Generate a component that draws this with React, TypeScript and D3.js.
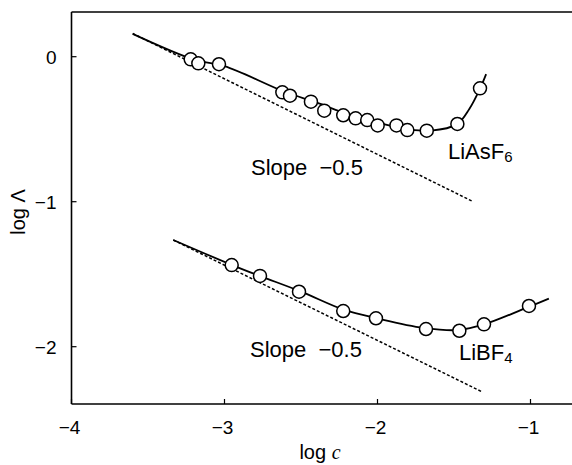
import React from "react";
import * as d3 from "d3";

const xTicks = [-4, -3, -2, -1];
const yTicks = [0, -1, -2];

// LiAsF6 measured points
const asX = [-3.221, -3.171, -3.036, -2.622, -2.572, -2.435, -2.348, -2.224, -2.143, -2.067, -1.999, -1.876, -1.805, -1.678, -1.478, -1.33];
const asY = [-0.018, -0.046, -0.052, -0.246, -0.269, -0.31, -0.372, -0.404, -0.425, -0.437, -0.474, -0.474, -0.506, -0.51, -0.464, -0.218];
// LiAsF6 fitted curve
const asFitX = [-3.6, -3.2, -3.0, -2.6, -2.4, -2.2, -2.0, -1.8, -1.65, -1.48, -1.4, -1.33, -1.29];
const asFitY = [0.157, -0.02, -0.065, -0.245, -0.315, -0.395, -0.455, -0.5, -0.51, -0.465, -0.36, -0.22, -0.12];
// LiAsF6 limiting slope line
const asSlopeX = [-3.6, -1.374];
const asSlopeY = [0.16, -1.0];

// LiBF4 measured points
const bfX = [-2.953, -2.768, -2.513, -2.224, -2.01, -1.683, -1.465, -1.304, -1.01];
const bfY = [-1.437, -1.512, -1.621, -1.754, -1.804, -1.878, -1.89, -1.846, -1.719];
// LiBF4 fitted curve
const bfFitX = [-3.335, -2.95, -2.77, -2.5, -2.22, -2.0, -1.7, -1.47, -1.3, -1.0, -0.88];
const bfFitY = [-1.264, -1.437, -1.512, -1.62, -1.745, -1.805, -1.87, -1.885, -1.845, -1.72, -1.669];
// LiBF4 limiting slope line
const bfSlopeX = [-3.335, -1.319];
const bfSlopeY = [-1.264, -2.31];

const W = 572;
const H = 465;

export default function App() {
  const x = d3.scaleLinear().domain([-4, -1]).range([71.5, 530.5]);
  const y = d3.scaleLinear().domain([0, -2]).range([56.7, 346.7]);
  const left = 71.5;
  const top = 12;
  const bottom = 404;
  const right = W;

  const line = d3
    .line<[number, number]>()
    .x((d) => x(d[0]))
    .y((d) => y(d[1]))
    .curve(d3.curveCatmullRom.alpha(0.5));
  const straight = d3
    .line<[number, number]>()
    .x((d) => x(d[0]))
    .y((d) => y(d[1]));

  const zip = (a: number[], b: number[]) => a.map((v, i) => [v, b[i]] as [number, number]);

  const font = "Liberation Sans, Arial, sans-serif";

  return (
    <svg
      width={W}
      height={H}
      style={{ position: "absolute", left: 0, top: 0, background: "#fff" }}
      fontFamily={font}
    >
      <rect x={0} y={0} width={W} height={H} fill="#fff" />
      {/* frame */}
      <line x1={left} y1={top} x2={left} y2={bottom} stroke="#000" strokeWidth={1.6} />
      <line x1={left} y1={top} x2={right} y2={top} stroke="#000" strokeWidth={1.6} />
      <line x1={left} y1={bottom} x2={right} y2={bottom} stroke="#000" strokeWidth={1.6} />

      {/* x ticks */}
      {xTicks.map((t) => (
        <g key={"x" + t}>
          <line x1={x(t)} x2={x(t)} y1={bottom} y2={bottom - 5} stroke="#000" strokeWidth={1.2} />
          <text x={x(t) - 2} y={bottom + 30} textAnchor="middle" fontSize={19}>
            {"\u2212" + Math.abs(t)}
          </text>
        </g>
      ))}
      {/* y ticks */}
      {yTicks.map((t) => (
        <g key={"y" + t}>
          <line x1={left} x2={left + 5} y1={y(t)} y2={y(t)} stroke="#000" strokeWidth={1.2} />
          <text x={left - 15} y={y(t) + 7} textAnchor="end" fontSize={19}>
            {t === 0 ? "0" : "\u2212" + Math.abs(t)}
          </text>
        </g>
      ))}

      {/* axis titles */}
      <text x={320} y={459} textAnchor="middle" fontSize={20}>
        log <tspan fontFamily="Liberation Serif, Times New Roman, serif" fontStyle="italic">c</tspan>
      </text>
      <text transform={`translate(25,212) rotate(-90)`} textAnchor="middle" fontSize={20}>
        log Λ
      </text>

      {/* slope lines */}
      <path d={straight(zip(asSlopeX, asSlopeY)) || ""} fill="none" stroke="#000" strokeWidth={1.5} strokeDasharray="3,2" />
      <path d={straight(zip(bfSlopeX, bfSlopeY)) || ""} fill="none" stroke="#000" strokeWidth={1.5} strokeDasharray="3,2" />

      {/* fitted curves */}
      <path d={line(zip(asFitX, asFitY)) || ""} fill="none" stroke="#000" strokeWidth={1.8} />
      <path d={line(zip(bfFitX, bfFitY)) || ""} fill="none" stroke="#000" strokeWidth={1.8} />

      {/* points */}
      {zip(asX, asY).map((d, i) => (
        <circle key={"a" + i} cx={x(d[0])} cy={y(d[1])} r={6.5} fill="#fff" stroke="#000" strokeWidth={1.5} />
      ))}
      {zip(bfX, bfY).map((d, i) => (
        <circle key={"b" + i} cx={x(d[0])} cy={y(d[1])} r={6.5} fill="#fff" stroke="#000" strokeWidth={1.5} />
      ))}

      {/* labels */}
      <text x={251} y={175} fontSize={22} xmlSpace="preserve">
        {"Slope  \u22120.5"}
      </text>
      <text x={250} y={357} fontSize={22} xmlSpace="preserve">
        {"Slope  \u22120.5"}
      </text>
      <text x={448} y={159} fontSize={22}>
        LiAsF<tspan fontSize={15} dy={3}>6</tspan>
      </text>
      <text x={459} y={360} fontSize={22}>
        LiBF<tspan fontSize={15} dy={3}>4</tspan>
      </text>
    </svg>
  );
}
